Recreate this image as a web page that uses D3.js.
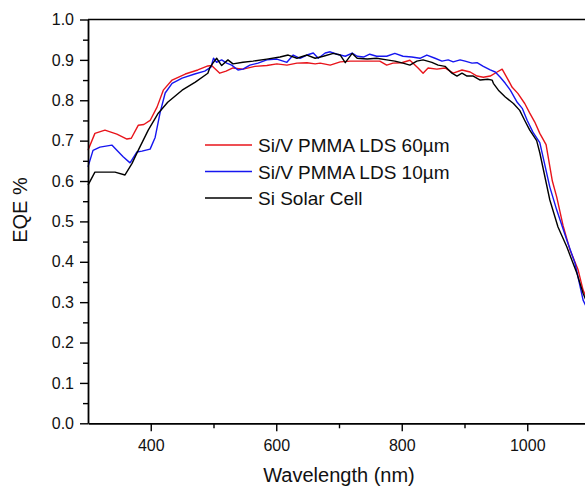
<!DOCTYPE html>
<html>
<head>
<meta charset="utf-8">
<script src="https://cdn.jsdelivr.net/npm/d3@7"></script>
<style>
  body { margin: 0; background: #fff; }
  svg { display: block; font-family: Arial, "Liberation Sans", sans-serif; }
</style>
</head>
<body>
<div class="dataviz"><svg></svg></div>
<script>
// EQE curves (wavelength nm, EQE fraction)
var wl60 = [300,311,327,346,362,369,380,389,399,410,420,434,455,475,491,497,510,520,531,547,566,585,601,617,633,649,662,670,686,702,718,740,765,776,786,800,813,826,834,842,856,869,882,896,909,920,930,941,952,960,968,976,985,996,1004,1012,1020,1030,1040,1047,1057,1068,1081,1089,1100];
var eqe60 = [0.676,0.718,0.726,0.716,0.704,0.706,0.738,0.740,0.750,0.783,0.825,0.850,0.865,0.875,0.885,0.886,0.867,0.872,0.880,0.877,0.884,0.886,0.890,0.887,0.892,0.893,0.890,0.892,0.887,0.895,0.897,0.897,0.897,0.887,0.892,0.893,0.899,0.880,0.867,0.880,0.877,0.880,0.867,0.875,0.870,0.860,0.857,0.860,0.870,0.877,0.855,0.832,0.817,0.792,0.768,0.746,0.718,0.690,0.600,0.560,0.490,0.430,0.380,0.330,0.290];

var wl10 = [300,308,319,338,346,356,367,378,386,399,407,415,423,434,450,470,486,496,500,505,513,521,529,539,547,558,571,585,601,617,627,638,649,659,667,678,686,697,710,721,729,739,749,760,776,789,802,816,829,840,853,864,874,882,893,901,912,920,930,941,949,957,965,973,984,992,1000,1009,1020,1036,1047,1063,1076,1089,1100];
var eqe10 = [0.635,0.676,0.684,0.689,0.676,0.660,0.645,0.672,0.674,0.679,0.708,0.770,0.818,0.842,0.855,0.865,0.872,0.882,0.904,0.894,0.900,0.892,0.887,0.875,0.877,0.887,0.892,0.900,0.902,0.894,0.912,0.904,0.912,0.917,0.904,0.917,0.920,0.914,0.909,0.917,0.909,0.907,0.914,0.909,0.909,0.916,0.909,0.907,0.904,0.912,0.904,0.897,0.900,0.895,0.900,0.897,0.892,0.893,0.884,0.875,0.870,0.857,0.842,0.825,0.795,0.780,0.750,0.721,0.695,0.585,0.528,0.454,0.397,0.305,0.270];

var wlSi = [300,311,343,359,370,380,396,412,427,450,471,491,494,499,505,513,523,531,547,563,585,606,619,633,649,662,675,691,702,710,721,729,745,760,776,789,802,813,824,834,848,858,869,880,888,896,904,914,925,937,944,946,954,965,978,988,996,1004,1015,1020,1036,1049,1063,1079,1089,1100];
var eqeSi = [0.590,0.622,0.622,0.615,0.643,0.676,0.726,0.768,0.795,0.825,0.845,0.867,0.880,0.892,0.904,0.886,0.900,0.890,0.894,0.897,0.902,0.907,0.912,0.904,0.912,0.904,0.909,0.916,0.912,0.893,0.916,0.904,0.902,0.904,0.900,0.897,0.892,0.887,0.897,0.900,0.894,0.887,0.884,0.867,0.860,0.867,0.860,0.860,0.850,0.852,0.850,0.842,0.825,0.808,0.792,0.775,0.750,0.726,0.700,0.670,0.553,0.486,0.437,0.372,0.322,0.280];

var seriesNames = ["Si/V PMMA LDS 60\u00b5m", "Si/V PMMA LDS 10\u00b5m", "Si Solar Cell"];
var seriesColors = ["#e8141b", "#1616f0", "#000000"];

var xTicks = [400, 600, 800, 1000];
var xMinor = [500, 700, 900];
var yTicks = [0, 0.1, 0.2, 0.3, 0.4, 0.5, 0.6, 0.7, 0.8, 0.9, 1.0];
var yMinor = [0.05, 0.15, 0.25, 0.35, 0.45, 0.55, 0.65, 0.75, 0.85, 0.95];

width = 585;
height = 488;

margin = {top: 19.5, right: -5, bottom: 64.7, left: 88};

var series = [
  {name: seriesNames[0], color: seriesColors[0], pts: wl60.map((w, i) => ({x: w, y: eqe60[i]}))},
  {name: seriesNames[1], color: seriesColors[1], pts: wl10.map((w, i) => ({x: w, y: eqe10[i]}))},
  {name: seriesNames[2], color: seriesColors[2], pts: wlSi.map((w, i) => ({x: w, y: eqeSi[i]}))}
];

x = d3.scaleLinear().domain([300, 1100]).range([margin.left, width - margin.right]);
y = d3.scaleLinear().domain([0, 1]).range([height - margin.bottom, margin.top]);

svg = d3.select(".dataviz > svg")
  .attr("width", width)
  .attr("height", height)
  .attr("viewBox", [0, 0, width, height]);

// frame top line
svg.append("line")
  .attr("x1", x(300)).attr("x2", x(1100))
  .attr("y1", y(1)).attr("y2", y(1))
  .attr("stroke", "#000").attr("stroke-width", 1.6);

var line = d3.line().x(d => x(d.x)).y(d => y(d.y));

svg.append("g").selectAll("path")
  .data(series)
  .join("path")
  .attr("fill", "none")
  .attr("stroke", d => d.color)
  .attr("stroke-width", 1.4)
  .attr("stroke-linejoin", "round")
  .attr("d", d => line(d.pts));

// minor ticks
svg.append("g")
  .attr("transform", `translate(0,${y(0)})`)
  .call(d3.axisBottom(x).tickValues(xMinor).tickSize(5).tickFormat(""))
  .call(g => g.select(".domain").remove())
  .call(g => g.selectAll("line").attr("stroke-width", 1.4));

svg.append("g")
  .attr("transform", `translate(${x(300)},0)`)
  .call(d3.axisLeft(y).tickValues(yMinor).tickSize(5).tickFormat(""))
  .call(g => g.select(".domain").remove())
  .call(g => g.selectAll("line").attr("stroke-width", 1.4));

// major axes
xAxis = g => g
  .attr("transform", `translate(0,${y(0)})`)
  .call(d3.axisBottom(x).tickValues(xTicks).tickSize(8).tickSizeOuter(0).tickPadding(8).tickFormat(d3.format("d")));

yAxis = g => g
  .attr("transform", `translate(${x(300)},0)`)
  .call(d3.axisLeft(y).tickValues(yTicks).tickSize(8).tickSizeOuter(0).tickPadding(6).tickFormat(d3.format(".1f")));

svg.append("g").attr("class", "xaxis").call(xAxis);
svg.append("g").attr("class", "yaxis").call(yAxis);

svg.selectAll(".xaxis, .yaxis")
  .call(g => g.selectAll(".domain").attr("stroke-width", 1.8))
  .call(g => g.selectAll(".tick line").attr("stroke-width", 1.4))
  .call(g => g.selectAll("text").attr("font-size", 16).attr("fill", "#111").attr("font-family", "Arial, 'Liberation Sans', sans-serif"));

// axis titles
svg.append("text")
  .attr("x", 339).attr("y", 482)
  .attr("text-anchor", "middle")
  .attr("font-size", 20)
  .attr("fill", "#111")
  .text("Wavelength (nm)");

svg.append("text")
  .attr("transform", "translate(27,210) rotate(-90)")
  .attr("text-anchor", "middle")
  .attr("font-size", 20)
  .attr("fill", "#111")
  .text("EQE %");

// legend
var legend = svg.append("g").attr("transform", "translate(205,145)");
var rows = legend.selectAll("g")
  .data(series)
  .join("g")
  .attr("transform", (d, i) => `translate(0,${i * 26.5})`);

rows.append("line")
  .attr("x1", 0).attr("x2", 47)
  .attr("stroke", d => d.color)
  .attr("stroke-width", 1.5);

rows.append("text")
  .attr("x", 53).attr("y", 7)
  .attr("font-size", 19)
  .attr("fill", "#111")
  .text(d => d.name);
</script>
</body>
</html>
